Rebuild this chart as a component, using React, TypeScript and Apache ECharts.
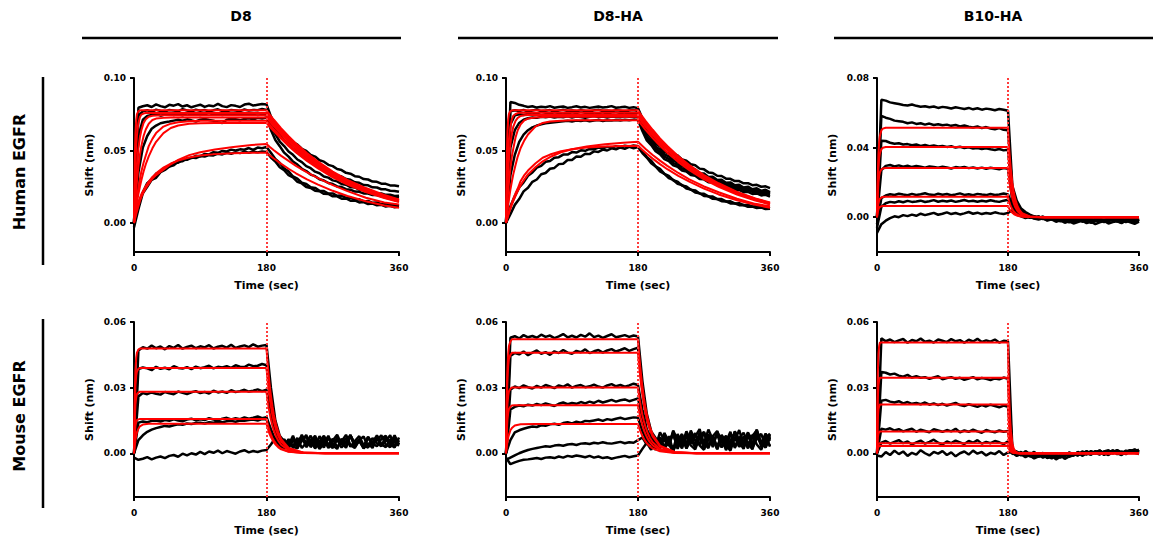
import React, { useEffect, useRef } from "react";
import * as echarts from "echarts";

// Time grids (sec)
const T_OBS = [0,6,12,18,24,30,36,42,48,54,60,66,72,78,84,90,96,102,108,114,120,126,132,138,144,150,156,162,168,174,180,186,192,198,204,210,216,222,228,234,240,246,252,258,264,270,276,282,288,294,300,306,312,318,324,330,336,342,348,354,360];
const T_FIT_SLOW = [0,1,2,3,4,6,8,10,13,16,20,25,30,40,50,60,75,90,110,135,160,180,185,190,200,210,220,235,250,270,290,315,340,360];
const T_FIT_FAST = [0,1,2,3,4,6,8,12,20,40,80,120,160,180,181,182,183,184,186,188,190,193,196,200,210,230,260,300,360];

// Tick labels
const X_TICKS = [0, 180, 360];
const Y_TICKS_H = [0, 0.05, 0.1];
const Y_TICKS_B10H = [0, 0.04, 0.08];
const Y_TICKS_M = [0, 0.03, 0.06];

// All shift values in units of 1e-4 nm
// ---- D8 / Human EGFR
const D8_HUMAN_OBS = [
  [0,795,805,812,800,818,806,798,815,809,820,803,812,798,808,816,801,811,805,822,806,799,813,808,800,817,823,810,815,820,818,735,676,648,612,591,558,541,512,497,470,458,433,423,401,392,372,365,346,340,323,319,303,300,286,284,271,270,259,259,253],
  [0,740,770,778,765,782,772,768,780,775,770,785,776,769,781,774,779,768,777,784,772,770,779,776,771,783,775,780,778,786,780,702,641,608,569,546,512,494,465,450,424,411,387,377,355,347,327,321,303,298,281,277,262,260,246,245,233,232,222,221,215],
  [0,600,712,738,745,752,740,748,755,745,750,742,756,748,752,745,750,758,747,752,744,750,755,748,752,746,754,750,757,752,755,668,613,562,531,493,470,438,420,392,378,354,343,321,313,294,287,269,264,248,245,230,228,215,214,203,204,194,195,187,188],
  [0,350,520,600,650,672,688,695,700,706,712,705,715,708,700,712,718,710,705,695,690,712,720,715,708,718,722,715,725,720,728,642,572,530,485,458,423,403,374,358,334,323,302,293,276,269,252,248,233,230,217,215,204,203,193,193,184,186,179,182,175],
  [-30,95,205,250,298,312,350,366,390,398,424,426,446,448,463,460,476,473,488,484,497,494,506,500,508,505,517,504,520,516,525,484,441,414,376,356,321,306,278,269,246,242,222,220,203,204,188,189,174,175,161,163,149,152,139,142,130,134,122,127,118],
  [-10,135,210,275,300,340,353,383,390,413,415,435,436,451,448,462,459,468,466,478,473,484,478,487,482,491,485,493,487,494,490,452,424,384,364,330,314,284,273,248,242,222,219,201,200,184,184,168,169,154,156,142,144,131,134,122,126,114,119,108,113],
];
const D8_HUMAN_FIT = [
  [0,430,620,710,750,772,776,777,777,777,777,777,777,777,777,777,777,777,777,777,777,777,744,712,653,598,549,482,423,355,298,241,193,163],
  [0,250,420,530,605,690,730,748,755,758,759,759,759,759,759,759,759,759,759,759,759,759,726,696,638,584,536,471,414,347,291,235,189,159],
  [0,135,250,335,405,515,590,640,690,715,733,740,742,743,743,743,743,743,743,743,743,743,711,681,624,572,525,461,405,340,285,230,185,156],
  [0,82,160,225,285,390,470,530,600,645,685,710,720,725,727,727,727,727,727,727,727,727,696,667,611,560,513,451,396,332,279,225,181,153],
  [0,48,95,135,175,240,300,355,415,465,530,580,620,665,685,695,702,705,705,705,705,705,675,646,592,543,498,437,384,322,271,219,176,148],
  [0,37,73,107,140,200,250,295,355,405,460,515,560,620,655,672,684,688,690,690,690,690,660,633,580,531,487,428,376,315,265,214,172,145],
  [0,22,42,62,80,115,150,178,212,240,270,305,330,368,405,435,468,488,507,524,538,545,523,502,463,428,394,349,309,261,220,174,142,127],
  [0,28,55,80,102,140,172,198,228,255,285,318,342,382,410,430,452,465,475,481,484,485,464,445,408,374,343,301,265,222,186,150,121,105],
];

// ---- D8-HA / Human EGFR
const D8HA_HUMAN_OBS = [
  [0,835,828,815,808,800,805,796,802,798,806,795,800,803,794,799,805,797,801,794,799,803,796,800,806,795,798,802,794,799,792,722,650,616,576,555,523,508,478,466,439,429,405,398,375,370,349,345,326,324,306,305,289,289,274,275,261,263,250,253,241],
  [0,770,778,772,780,768,776,782,770,774,779,767,775,781,772,776,770,778,773,769,777,781,772,775,770,778,774,768,776,779,772,694,619,591,546,528,490,478,444,436,405,400,372,369,343,342,318,319,296,298,277,280,260,264,245,251,233,239,222,229,213],
  [0,680,742,750,745,752,748,755,744,750,753,746,751,748,755,747,752,744,750,756,748,752,746,754,749,745,752,748,755,750,752,668,600,569,527,507,473,459,429,418,391,384,359,354,332,328,307,305,286,285,267,268,251,253,237,239,224,228,214,218,206],
  [0,520,640,690,712,722,728,725,732,729,735,727,733,730,736,728,734,731,726,733,737,730,734,728,735,731,729,736,732,734,731,651,586,554,511,491,457,443,413,403,376,369,345,340,318,315,295,293,274,274,256,257,240,242,226,229,214,218,204,208,196],
  [0,330,470,560,610,640,660,672,680,688,692,695,699,701,705,700,706,703,708,702,707,710,704,709,706,711,707,712,708,713,710,634,569,537,495,475,441,427,398,388,362,355,331,326,304,301,281,279,260,260,242,243,226,228,212,215,200,204,190,194,182],
  [0,115,185,245,280,326,348,382,394,422,428,450,454,472,472,489,486,501,498,511,508,520,515,525,520,530,524,533,527,535,530,498,454,429,391,373,339,325,295,285,259,252,229,225,204,202,184,182,165,165,149,150,135,137,123,126,113,117,105,110,101],
  [0,60,125,165,218,243,284,300,336,345,374,380,406,409,434,435,458,457,478,475,494,490,506,500,515,508,521,512,525,516,524,482,451,412,390,356,339,310,297,271,262,238,231,210,205,187,184,167,165,150,149,135,136,123,124,112,114,103,106,96,99],
];
const D8HA_HUMAN_FIT = [
  [0,440,630,715,752,772,776,777,777,777,777,777,777,777,777,777,777,777,777,777,777,777,740,706,643,584,531,461,399,330,274,215,170,141],
  [0,225,385,495,575,665,715,740,752,758,760,761,761,761,761,761,761,761,761,761,761,761,725,692,629,572,521,451,391,323,268,211,167,138],
  [0,147,265,360,435,545,620,665,705,725,738,743,745,745,745,745,745,745,745,745,745,745,710,677,616,560,510,442,383,317,262,206,163,135],
  [0,83,157,222,280,380,460,515,590,640,680,708,720,728,731,732,732,732,732,732,732,732,698,665,605,550,501,434,376,311,258,203,160,132],
  [0,45,87,126,163,230,286,337,400,458,517,570,610,665,690,700,706,709,709,709,709,709,676,644,586,533,485,420,364,301,250,196,155,128],
  [0,18,35,52,68,98,126,152,188,220,260,300,335,385,425,455,488,508,527,543,554,560,536,512,469,430,394,345,301,252,212,167,132,115],
  [0,20,40,58,76,110,140,168,205,238,290,330,362,410,450,472,495,508,520,527,531,532,509,486,444,406,371,325,285,237,197,157,125,105],
];

// ---- B10-HA / Human EGFR
const B10HA_HUMAN_OBS = [
  [0,675,670,660,655,650,645,642,648,640,635,638,632,636,628,634,630,625,632,627,622,628,620,626,618,624,620,615,622,618,612,180,95,50,30,15,5,-5,0,-10,-5,-15,-8,-2,-12,-20,-6,-14,-25,-10,-18,-8,-22,-12,-4,-16,-10,-20,-8,-14,-18],
  [0,582,572,565,555,552,548,540,545,536,540,532,538,530,534,528,532,525,530,522,527,520,516,522,512,518,510,505,512,502,500,150,80,42,25,10,-2,5,-8,0,-12,-6,-18,-10,-4,-16,-22,-8,-14,-28,-12,-6,-18,-24,-10,-16,-6,-20,-12,-8,-15],
  [0,440,438,428,422,425,418,420,414,418,410,415,408,412,406,410,404,408,400,405,398,402,395,398,392,396,390,386,392,384,388,120,65,35,18,8,0,-6,4,-10,-2,-14,-20,-8,-16,-10,-24,-18,-6,-12,-20,-26,-14,-8,-18,-12,-22,-10,-16,-24,-12],
  [0,270,295,300,292,298,290,296,288,294,290,285,292,288,284,290,286,280,288,284,289,282,286,280,285,278,284,280,276,282,278,95,50,25,12,2,-6,3,-4,-12,-6,-16,-10,-22,-14,-8,-18,-12,-26,-20,-10,-16,-24,-14,-20,-8,-18,-26,-14,-10,-20],
  [-40,110,125,132,128,135,130,126,134,128,132,138,130,127,135,129,133,126,131,137,128,132,126,134,130,127,133,128,131,136,130,70,30,15,5,-4,6,-2,-10,-4,-14,-8,-20,-12,-18,-28,-16,-22,-12,-30,-18,-24,-14,-20,-10,-22,-16,-28,-18,-12,-24],
  [-60,60,80,88,84,92,86,94,88,90,95,87,92,98,89,94,90,96,88,93,99,91,95,89,94,90,97,92,88,95,100,60,25,10,0,8,-4,2,-8,-16,-6,-12,-24,-16,-30,-20,-14,-26,-18,-32,-22,-16,-28,-20,-14,-24,-30,-18,-22,-26,-16],
  [-90,-40,-20,-5,5,0,12,6,15,8,20,12,18,25,14,20,28,18,24,16,22,30,20,26,18,24,20,28,22,18,25,40,15,5,-5,2,-8,-14,-6,-20,-12,-26,-18,-32,-24,-36,-28,-20,-34,-26,-40,-30,-22,-36,-28,-24,-34,-20,-30,-38,-26],
];
const B10HA_HUMAN_FIT = [
  [0,231,360,432,468,499,509,514,514,514,514,514,514,514,438,373,318,271,197,143,104,64,40,21,4,0,0,0,0],
  [0,181,282,339,367,391,399,403,403,403,403,403,403,403,343,293,249,212,154,112,81,50,31,17,3,0,0,0,0],
  [0,127,198,238,258,275,280,283,283,283,283,283,283,283,241,205,175,149,108,79,57,35,22,12,2,0,0,0,0],
  [0,53,82,98,106,113,116,117,117,117,117,117,117,117,100,85,72,62,45,33,24,15,9,5,1,0,0,0,0],
  [0,29,46,55,59,63,64,65,65,65,65,65,65,65,55,47,40,34,25,18,13,8,5,3,1,0,0,0,0],
];

// ---- D8 / Mouse EGFR
const D8_MOUSE_OBS = [
  [0,470,485,478,492,480,488,475,490,482,495,478,486,492,480,489,484,494,479,487,491,483,496,481,488,493,485,498,487,492,495,300,150,80,55,30,72,38,84,45,62,26,78,44,70,32,66,48,25,80,46,63,30,75,44,58,82,40,28,68,50],
  [0,385,392,388,380,395,386,391,384,398,390,387,394,385,396,389,393,400,388,395,392,398,390,402,396,394,405,398,400,408,402,245,125,70,42,22,60,35,76,28,54,80,38,62,24,58,84,40,68,30,56,78,36,26,70,46,32,74,44,82,40],
  [0,260,275,270,278,272,268,280,274,270,282,276,271,279,284,275,280,273,286,278,282,276,288,280,284,290,282,286,292,284,290,180,95,55,30,65,24,48,78,34,60,22,52,80,36,66,28,54,84,38,24,62,76,30,50,82,36,64,40,26,72],
  [0,140,145,142,148,150,145,152,148,155,150,146,154,158,150,155,152,160,154,150,158,162,155,160,156,164,158,162,168,160,165,110,60,40,22,62,32,70,24,48,80,34,58,26,74,36,20,66,44,82,30,56,24,72,36,78,42,28,64,50,34],
  [0,60,82,98,108,115,120,125,122,128,132,130,136,134,138,140,136,142,140,145,142,146,148,144,150,148,152,154,150,156,155,100,55,35,20,58,30,22,66,76,28,54,20,44,80,30,62,26,50,84,32,60,22,46,24,74,34,56,82,30,60],
  [-20,-30,-25,-18,-28,-20,-15,-22,-12,-8,-16,-2,-10,0,-6,6,-4,8,2,12,0,10,4,-2,8,14,4,10,6,12,15,40,70,30,64,38,80,26,56,84,36,68,28,76,40,24,72,50,30,82,38,62,26,74,44,32,66,80,34,58,40],
];
const D8_MOUSE_FIT = [
  [0,263,383,436,460,474,479,479,479,479,479,479,479,479,434,392,355,321,263,215,176,131,97,65,24,3,0,0,0],
  [0,215,312,355,374,386,390,390,390,390,390,390,390,390,353,319,289,261,214,175,144,106,79,53,20,3,0,0,0],
  [0,155,225,256,270,278,281,281,281,281,281,281,281,281,254,230,208,188,154,126,103,77,57,38,14,2,0,0,0],
  [0,86,126,143,151,155,157,157,157,157,157,157,157,157,142,129,116,105,86,70,58,43,32,21,8,1,0,0,0],
  [0,35,61,80,95,112,123,131,135,135,135,135,135,135,122,111,100,90,74,61,50,37,27,18,7,1,0,0,0],
];

// ---- D8-HA / Mouse EGFR
const D8HA_MOUSE_OBS = [
  [0,528,535,525,540,530,536,528,542,532,538,526,534,545,530,537,529,541,533,548,531,538,527,536,544,530,535,540,532,538,534,330,180,100,70,40,92,36,98,48,84,30,104,58,40,96,30,78,102,50,24,88,58,106,40,80,46,96,30,70,90],
  [0,445,458,452,465,448,460,470,455,462,450,466,458,472,460,455,468,462,475,458,466,472,460,470,476,465,472,480,468,476,482,290,160,95,55,26,92,50,20,88,40,100,58,32,94,46,108,62,30,84,50,98,24,70,94,40,80,104,50,28,86],
  [0,290,305,298,310,302,296,308,300,312,305,298,310,304,315,300,308,312,302,306,314,305,300,310,316,306,312,304,310,318,312,200,110,68,40,22,80,36,90,20,70,48,86,26,76,98,34,66,18,82,44,92,30,72,50,96,24,68,88,36,78],
  [0,200,212,218,215,222,218,225,220,228,222,216,226,232,224,230,226,234,228,236,230,240,232,238,244,236,242,246,238,244,250,160,90,55,30,74,18,60,86,30,76,22,62,92,36,16,80,44,88,26,72,40,98,50,20,84,32,74,44,90,56],
  [0,60,95,105,112,118,122,120,128,126,132,135,130,138,142,136,144,140,148,146,150,154,148,156,152,158,162,156,160,164,162,100,60,40,16,66,30,78,12,56,88,22,70,40,84,20,62,80,28,74,14,58,92,30,76,44,18,86,48,26,72],
  [-30,-20,-10,0,8,15,20,24,28,32,30,35,38,34,40,42,38,44,46,42,48,45,50,46,44,48,52,46,50,48,60,72,40,88,30,96,60,34,104,58,22,90,46,76,110,40,86,28,98,54,80,24,100,62,36,92,64,108,42,84,30],
  [-20,-50,-42,-35,-30,-28,-25,-22,-26,-20,-18,-22,-15,-20,-12,-16,-10,-14,-18,-12,-20,-15,-22,-18,-25,-20,-16,-12,-18,-14,-10,20,48,16,62,26,70,40,10,66,28,78,36,18,72,44,24,80,20,64,38,12,74,30,60,22,84,40,16,68,34],
];
const D8HA_MOUSE_FIT = [
  [0,260,391,453,490,511,521,521,521,521,521,521,521,521,476,435,398,364,304,254,212,162,123,86,35,6,0,0,0],
  [0,230,344,399,431,450,459,459,459,459,459,459,459,459,420,383,350,320,268,224,187,143,109,76,31,5,0,0,0],
  [0,150,226,262,283,295,301,301,301,301,301,301,301,301,275,251,230,210,175,147,123,94,71,50,20,3,0,0,0],
  [0,95,155,185,202,213,218,220,220,220,220,220,220,220,201,184,168,154,128,107,90,68,52,36,15,2,0,0,0],
  [0,29,52,71,84,105,115,127,133,134,134,134,134,134,122,112,102,94,78,65,55,42,32,22,9,1,0,0,0],
];

// ---- B10-HA / Mouse EGFR
const B10HA_MOUSE_OBS = [
  [0,525,512,520,508,516,522,505,518,512,524,510,515,506,520,514,508,522,512,517,505,519,511,523,509,516,510,520,506,514,512,20,5,-8,10,-4,6,-12,2,-18,-6,-24,-10,-2,-16,-8,4,-12,0,-6,10,-4,8,-2,14,0,-8,6,12,2,-4],
  [0,372,368,360,364,355,350,358,346,352,345,348,340,346,352,338,344,348,340,345,336,342,348,338,344,340,335,342,338,346,340,10,-4,6,-10,2,-14,-6,-20,-12,-4,-18,-8,-26,-14,-2,-10,4,-6,8,-2,12,0,-8,6,14,-4,10,2,16,6],
  [0,240,244,236,232,238,228,234,226,230,224,232,222,228,220,226,218,224,230,220,216,224,218,212,220,214,222,216,210,218,212,0,8,-6,4,-10,-2,-16,-8,-22,-12,-6,-20,-10,2,-8,6,-4,10,-2,4,12,-6,8,0,14,4,-4,10,18,6],
  [0,112,108,114,104,110,100,106,112,98,108,102,96,110,104,98,106,100,112,96,104,98,108,100,94,106,100,96,104,98,102,6,-8,4,-12,-4,-18,-8,-2,-14,-24,-10,-16,-6,-12,0,-8,6,-4,10,2,-6,8,14,0,6,-2,12,4,8,16],
  [0,48,56,44,52,60,46,54,40,50,58,44,52,62,48,40,54,46,58,50,42,56,48,60,44,52,46,56,50,42,54,-4,6,-10,-2,-14,-20,-8,-16,-4,-12,-22,-6,-14,4,-4,-10,8,0,-6,6,12,-2,4,10,-4,8,2,14,6,0],
  [-10,-15,5,-8,12,-4,8,-12,2,-6,14,0,-10,6,-2,10,-8,4,-14,0,8,-6,12,-2,6,-10,2,-4,10,-8,4,2,-12,-4,-18,-8,-24,-14,-6,-20,-10,-28,-16,-8,-2,-12,4,-6,8,-4,2,10,-8,6,12,0,-4,8,14,4,10],
];
const B10HA_MOUSE_FIT = [
  [0,354,455,491,506,506,506,506,506,506,506,506,506,506,339,228,152,101,46,20,9,3,0,0,0,0,0,0,0],
  [0,242,311,335,345,345,345,345,345,345,345,345,345,345,231,155,104,69,31,14,6,2,0,0,0,0,0,0,0],
  [0,156,201,216,223,223,223,223,223,223,223,223,223,223,149,100,67,45,20,9,4,1,0,0,0,0,0,0,0],
  [0,70,90,97,100,100,100,100,100,100,100,100,100,100,67,45,30,20,9,4,2,1,0,0,0,0,0,0,0],
  [0,32,41,45,46,46,46,46,46,46,46,46,46,46,31,21,14,9,4,2,1,0,0,0,0,0,0,0,0],
  [0,23,30,32,33,33,33,33,33,33,33,33,33,33,22,15,10,7,3,1,1,0,0,0,0,0,0,0,0],
];

const COLUMN_TITLES = ["D8", "D8-HA", "B10-HA"];
const ROW_TITLES = ["Human EGFR", "Mouse EGFR"];
const X_NAME = "Time (sec)";
const Y_NAME = "Shift (nm)";
const DISSOCIATION_START = 180;

const FONT = "'DejaVu Sans', sans-serif";

const PANELS = [
  { obs: D8_HUMAN_OBS, fit: D8_HUMAN_FIT, tFit: T_FIT_SLOW, yMax: 0.1, yTicks: Y_TICKS_H },
  { obs: D8HA_HUMAN_OBS, fit: D8HA_HUMAN_FIT, tFit: T_FIT_SLOW, yMax: 0.1, yTicks: Y_TICKS_H },
  { obs: B10HA_HUMAN_OBS, fit: B10HA_HUMAN_FIT, tFit: T_FIT_FAST, yMax: 0.08, yTicks: Y_TICKS_B10H },
  { obs: D8_MOUSE_OBS, fit: D8_MOUSE_FIT, tFit: T_FIT_FAST, yMax: 0.06, yTicks: Y_TICKS_M },
  { obs: D8HA_MOUSE_OBS, fit: D8HA_MOUSE_FIT, tFit: T_FIT_FAST, yMax: 0.06, yTicks: Y_TICKS_M },
  { obs: B10HA_MOUSE_OBS, fit: B10HA_MOUSE_FIT, tFit: T_FIT_FAST, yMax: 0.06, yTicks: Y_TICKS_M },
];

const GRID_LEFTS = [134, 506, 877];
const GRID_WIDTHS = [265, 264, 262];
const GRID_TOPS = [78, 322];
const GRID_HEIGHTS = [174, 175];

function buildOption() {
  const grids: any[] = [];
  const xAxes: any[] = [];
  const yAxes: any[] = [];
  const series: any[] = [];
  const labelStyle = { fontFamily: FONT, fontWeight: "bold", fontSize: 9, color: "#000" };
  const nameStyle = { fontFamily: FONT, fontWeight: "bold", fontSize: 11, color: "#000" };

  PANELS.forEach((p, i) => {
    const col = i % 3;
    const row = Math.floor(i / 3);
    grids.push({ left: GRID_LEFTS[col], top: GRID_TOPS[row], width: GRID_WIDTHS[col], height: GRID_HEIGHTS[row] });
    xAxes.push({
      type: "value", gridIndex: i, min: 0, max: 360, interval: 180,
      axisLine: { show: true, onZero: false, lineStyle: { color: "#000", width: 2 } },
      axisTick: { show: true, length: 4, lineStyle: { color: "#000", width: 2 } },
      axisLabel: { ...labelStyle, margin: 11, customValues: X_TICKS },
      splitLine: { show: false },
      name: X_NAME, nameLocation: "middle", nameGap: 28, nameTextStyle: nameStyle,
    });
    yAxes.push({
      type: "value", gridIndex: i, min: -0.02, max: p.yMax,
      axisLine: { show: true, onZero: false, lineStyle: { color: "#000", width: 2 } },
      axisTick: { show: true, length: 4, customValues: p.yTicks, lineStyle: { color: "#000", width: 2 } },
      axisLabel: { ...labelStyle, margin: 8, customValues: p.yTicks, formatter: (v: number) => v.toFixed(2) },
      splitLine: { show: false },
      name: Y_NAME, nameLocation: "middle", nameGap: 39, nameTextStyle: nameStyle,
    });
    p.obs.forEach((trace) => {
      series.push({
        type: "line", xAxisIndex: i, yAxisIndex: i, silent: true, symbol: "none", showSymbol: false, z: 2,
        lineStyle: { color: "#000", width: 2.5 },
        data: T_OBS.map((t, j) => [t, trace[j] / 10000]),
      });
    });
    p.fit.forEach((trace, k) => {
      const s: any = {
        type: "line", xAxisIndex: i, yAxisIndex: i, silent: true, symbol: "none", showSymbol: false, z: 3,
        lineStyle: { color: "#ff0000", width: 2 },
        data: p.tFit.map((t, j) => [t, trace[j] / 10000]),
      };
      if (k === p.fit.length - 1) {
        s.markLine = {
          silent: true, symbol: ["none", "none"], label: { show: false },
          lineStyle: { color: "#ff3b3b", type: [2, 2], width: 2 },
          data: [{ xAxis: DISSOCIATION_START }],
        };
      }
      series.push(s);
    });
  });

  const titleCenters = [241, 618, 993];
  const lineSpans = [[82, 401], [458, 778], [834, 1153]];
  const graphic: any[] = [];
  COLUMN_TITLES.forEach((t, c) => {
    graphic.push({
      type: "text", x: titleCenters[c], y: 16,
      style: { text: t, font: `bold 14px ${FONT}`, fill: "#000", align: "center", verticalAlign: "middle" },
    });
    graphic.push({
      type: "line", shape: { x1: lineSpans[c][0], y1: 38, x2: lineSpans[c][1], y2: 38 },
      style: { stroke: "#000", lineWidth: 2.5 },
    });
  });
  const rowCenters = [172, 416];
  const rowLines = [[77, 265], [319, 508]];
  ROW_TITLES.forEach((t, r) => {
    graphic.push({
      type: "text", x: 19, y: rowCenters[r], rotation: Math.PI / 2,
      style: { text: t, font: `bold 16px ${FONT}`, fill: "#000", align: "center", verticalAlign: "middle" },
    });
    graphic.push({
      type: "line", shape: { x1: 43, y1: rowLines[r][0], x2: 43, y2: rowLines[r][1] },
      style: { stroke: "#000", lineWidth: 2.5 },
    });
  });

  return {
    animation: false,
    backgroundColor: "#fff",
    textStyle: { fontFamily: FONT },
    grid: grids,
    xAxis: xAxes,
    yAxis: yAxes,
    series,
    graphic,
  };
}

export default function App() {
  const ref = useRef<HTMLDivElement>(null);
  useEffect(() => {
    if (!ref.current) return;
    const chart = echarts.init(ref.current, undefined, { renderer: "svg" });
    chart.setOption(buildOption() as any);
    return () => chart.dispose();
  }, []);
  return <div ref={ref} style={{ position: "absolute", left: 0, top: 0, width: 1155, height: 542 }} />;
}
